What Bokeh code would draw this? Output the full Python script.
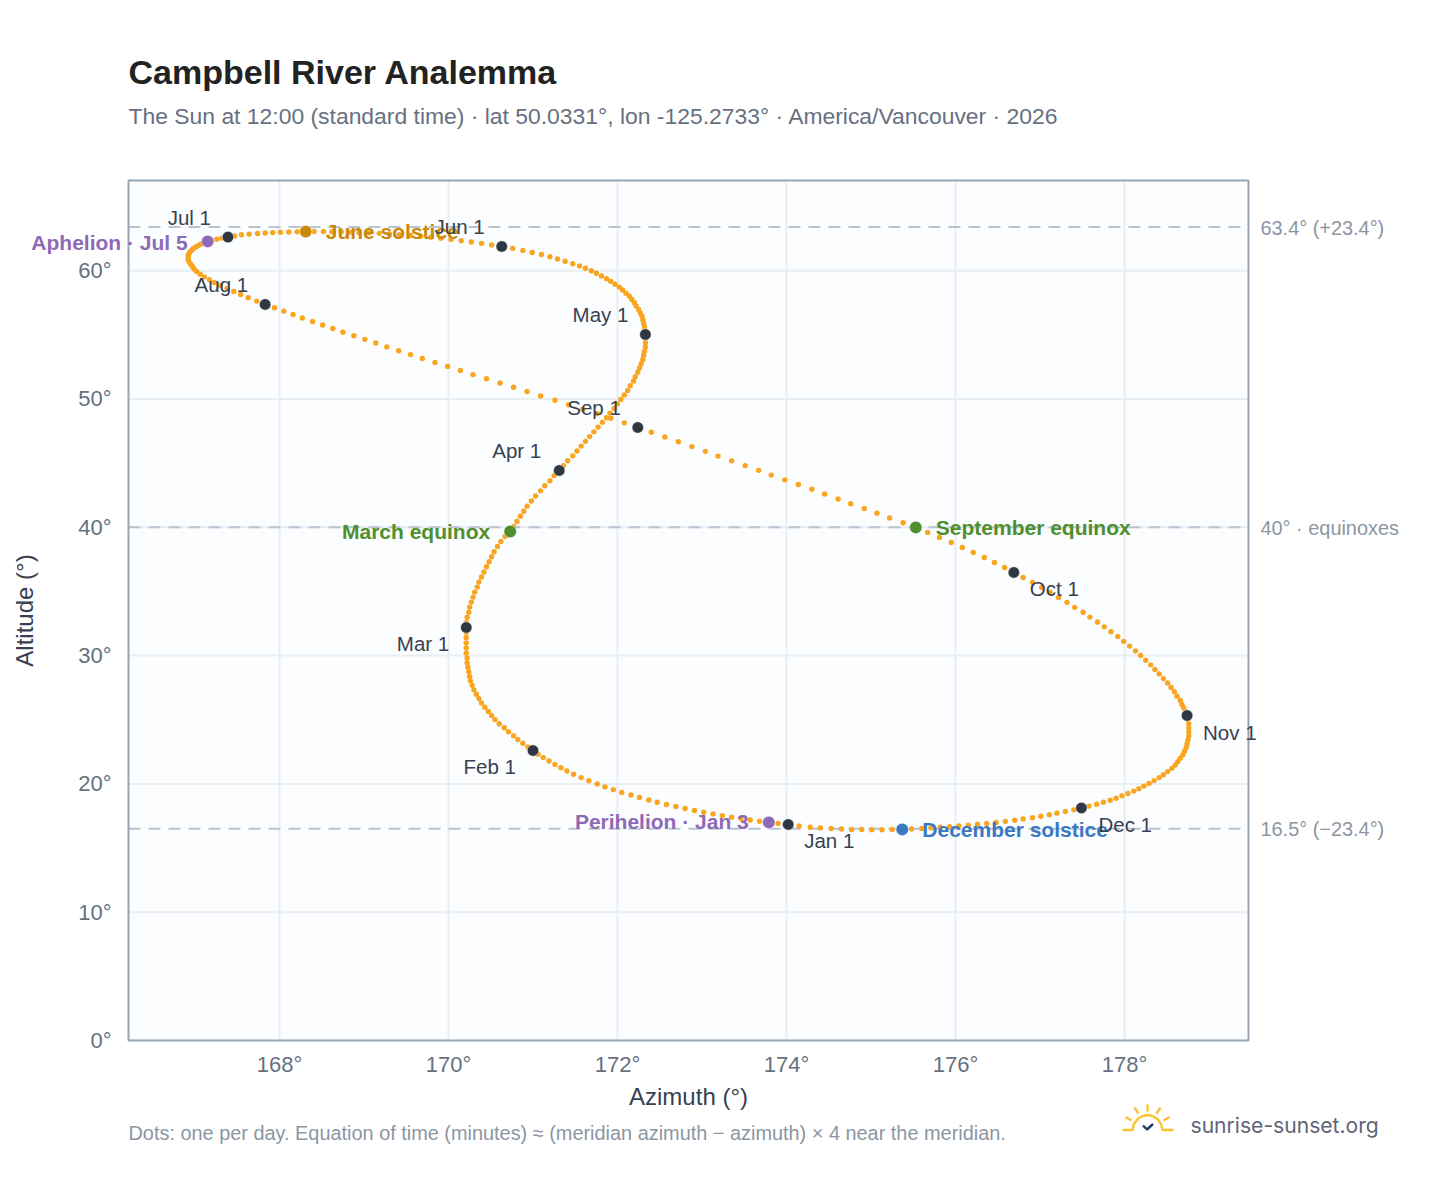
from bokeh.plotting import figure
from bokeh.embed import file_html
from bokeh.resources import INLINE
from bokeh.models import Label, Range1d, FixedTicker, PolyAnnotation, LinearAxis

# Daily sun positions (azimuth, altitude in degrees)
az_jan = [174.02,173.90,173.79,173.68,173.57,173.46,173.35,173.24,173.13,173.02,172.91,172.80,172.69,172.58,172.47,172.37,172.26,172.16,172.05,171.95,171.85,171.76,171.66,171.57,171.48,171.40,171.33,171.26,171.19,171.12,171.06]
alt_jan = [16.84,16.92,17.00,17.09,17.19,17.30,17.41,17.53,17.66,17.79,17.93,18.08,18.24,18.40,18.57,18.75,18.94,19.13,19.33,19.55,19.77,20.00,20.24,20.49,20.75,21.00,21.26,21.52,21.78,22.05,22.32]
az_feb = [171.00,170.94,170.88,170.82,170.77,170.71,170.66,170.60,170.55,170.51,170.47,170.43,170.39,170.36,170.33,170.30,170.28,170.26,170.25,170.24,170.23,170.22,170.22,170.21,170.21,170.21,170.21,170.21]
alt_feb = [22.60,22.88,23.17,23.46,23.76,24.07,24.38,24.69,25.01,25.33,25.65,25.98,26.31,26.65,26.99,27.33,27.68,28.03,28.38,28.74,29.09,29.45,29.82,30.20,30.60,30.99,31.40,31.80]
az_mar = [170.21,170.21,170.22,170.24,170.25,170.27,170.29,170.31,170.34,170.36,170.39,170.42,170.45,170.48,170.51,170.54,170.58,170.62,170.67,170.73,170.77,170.81,170.85,170.89,170.93,170.98,171.03,171.09,171.14,171.20,171.25]
alt_mar = [32.19,32.59,32.99,33.38,33.78,34.17,34.56,34.95,35.34,35.74,36.13,36.52,36.92,37.31,37.71,38.10,38.50,38.89,39.28,39.67,40.07,40.46,40.86,41.25,41.65,42.05,42.44,42.84,43.24,43.63,44.03]
az_apr = [171.31,171.36,171.41,171.47,171.52,171.57,171.62,171.67,171.72,171.77,171.82,171.87,171.91,171.96,172.00,172.04,172.08,172.12,172.15,172.19,172.21,172.24,172.26,172.28,172.30,172.31,172.32,172.33,172.33,172.33]
alt_apr = [44.43,44.81,45.19,45.57,45.95,46.33,46.70,47.07,47.44,47.81,48.18,48.54,48.90,49.26,49.62,49.97,50.32,50.67,51.03,51.40,51.74,52.08,52.42,52.75,53.08,53.41,53.73,54.05,54.37,54.70]
az_may = [172.33,172.33,172.32,172.31,172.30,172.29,172.27,172.25,172.22,172.20,172.17,172.14,172.10,172.06,172.02,171.97,171.92,171.87,171.81,171.75,171.69,171.62,171.55,171.47,171.38,171.29,171.20,171.10,170.99,170.88,170.76]
alt_may = [55.03,55.31,55.60,55.88,56.16,56.44,56.71,56.98,57.24,57.50,57.76,58.01,58.25,58.49,58.72,58.95,59.17,59.38,59.59,59.80,60.00,60.19,60.37,60.55,60.74,60.92,61.09,61.26,61.42,61.58,61.74]
az_jun = [170.63,170.51,170.39,170.27,170.15,170.03,169.91,169.79,169.67,169.55,169.42,169.30,169.18,169.06,168.94,168.83,168.73,168.62,168.52,168.41,168.31,168.21,168.11,168.01,167.92,167.83,167.74,167.64,167.55,167.47]
alt_jun = [61.89,62.01,62.13,62.24,62.34,62.44,62.53,62.61,62.68,62.75,62.81,62.86,62.91,62.95,62.98,63.01,63.03,63.04,63.05,63.05,63.05,63.04,63.02,63.00,62.97,62.94,62.90,62.85,62.80,62.71]
az_jul = [167.39,167.32,167.26,167.20,167.15,167.11,167.07,167.04,167.01,166.98,166.96,166.94,166.93,166.92,166.92,166.92,166.93,166.95,166.97,166.99,167.02,167.06,167.11,167.17,167.23,167.30,167.38,167.46,167.54,167.63,167.73]
alt_jul = [62.62,62.54,62.46,62.37,62.28,62.18,62.08,61.97,61.85,61.73,61.60,61.47,61.33,61.19,61.03,60.86,60.69,60.51,60.32,60.13,59.93,59.73,59.52,59.30,59.08,58.85,58.62,58.38,58.14,57.89,57.63]
az_aug = [167.83,167.94,168.05,168.16,168.27,168.39,168.51,168.63,168.75,168.88,169.01,169.14,169.27,169.41,169.55,169.69,169.84,169.99,170.14,170.29,170.45,170.61,170.77,170.93,171.09,171.26,171.42,171.59,171.76,171.92,172.08]
alt_aug = [57.37,57.11,56.85,56.58,56.31,56.04,55.77,55.49,55.21,54.93,54.65,54.36,54.06,53.76,53.46,53.16,52.85,52.54,52.22,51.90,51.58,51.25,50.92,50.58,50.24,49.90,49.55,49.20,48.86,48.50,48.14]
az_sep = [172.24,172.40,172.56,172.72,172.88,173.04,173.19,173.35,173.51,173.67,173.82,173.98,174.14,174.30,174.45,174.61,174.76,174.92,175.07,175.22,175.38,175.53,175.67,175.81,175.95,176.08,176.21,176.34,176.46,176.58]
alt_sep = [47.78,47.41,47.04,46.67,46.29,45.92,45.55,45.18,44.81,44.44,44.07,43.70,43.33,42.96,42.59,42.21,41.84,41.47,41.10,40.73,40.36,39.99,39.60,39.21,38.82,38.43,38.04,37.65,37.26,36.87]
az_oct = [176.69,176.80,176.91,177.02,177.12,177.22,177.32,177.41,177.51,177.59,177.68,177.76,177.84,177.92,177.99,178.06,178.13,178.19,178.25,178.31,178.36,178.41,178.46,178.51,178.55,178.59,178.62,178.66,178.68,178.70,178.72]
alt_oct = [36.48,36.09,35.70,35.31,34.92,34.53,34.15,33.76,33.38,33.00,32.62,32.24,31.86,31.49,31.11,30.74,30.37,30.01,29.64,29.28,28.92,28.57,28.21,27.86,27.52,27.18,26.84,26.50,26.17,25.93,25.62]
az_nov = [178.74,178.75,178.76,178.76,178.76,178.76,178.75,178.74,178.73,178.71,178.69,178.66,178.63,178.60,178.56,178.51,178.46,178.41,178.35,178.29,178.23,178.17,178.11,178.04,177.97,177.90,177.83,177.75,177.67,177.58]
alt_nov = [25.33,25.00,24.68,24.36,24.04,23.73,23.43,23.13,22.84,22.55,22.27,22.00,21.73,21.47,21.21,20.96,20.72,20.49,20.26,20.04,19.83,19.63,19.44,19.25,19.07,18.89,18.73,18.57,18.42,18.27]
az_dec = [177.49,177.40,177.30,177.20,177.11,177.01,176.91,176.80,176.70,176.59,176.48,176.37,176.26,176.15,176.04,175.93,175.82,175.71,175.60,175.48,175.37,175.25,175.13,175.01,174.89,174.77,174.65,174.53,174.40,174.28,174.15]
alt_dec = [18.12,17.98,17.85,17.72,17.60,17.48,17.37,17.27,17.17,17.08,17.00,16.92,16.85,16.78,16.72,16.67,16.62,16.58,16.52,16.48,16.45,16.44,16.43,16.43,16.44,16.45,16.48,16.52,16.57,16.63,16.72]

az_months = [az_jan, az_feb, az_mar, az_apr, az_may, az_jun, az_jul, az_aug, az_sep, az_oct, az_nov, az_dec]
alt_months = [alt_jan, alt_feb, alt_mar, alt_apr, alt_may, alt_jun, alt_jul, alt_aug, alt_sep, alt_oct, alt_nov, alt_dec]
month_labels = ["Jan 1", "Feb 1", "Mar 1", "Apr 1", "May 1", "Jun 1", "Jul 1", "Aug 1", "Sep 1", "Oct 1", "Nov 1", "Dec 1"]
ref_alts = [63.4, 40, 16.5]
ref_labels = ["63.4° (+23.4°)", "40° · equinoxes", "16.5° (−23.4°)"]
x_ticks = [168, 170, 172, 174, 176, 178]
y_ticks = [0, 10, 20, 30, 40, 50, 60]

# Plot area limits
XMIN, XMAX = 166.213, 179.467
YMIN, YMAX = 0.0, 67.03

# Canvas layout: the plotting frame fills the canvas so that text may sit around the chart box
W, H = 1440, 1180
BL, BT, BW, BH = 128, 180, 1120, 860
kx = (XMAX - XMIN) / BW
ky = (YMAX - YMIN) / BH

p = figure(width=W, height=H, output_backend="svg", toolbar_location=None,
           x_range=Range1d(XMIN - BL * kx, XMAX + (W - BL - BW) * kx),
           y_range=Range1d(YMIN - (H - BT - BH) * ky, YMAX + BT * ky),
           x_axis_location=None, y_axis_location=None,
           min_border=0, frame_width=W, frame_height=H,
           background_fill_color="white", border_fill_color="white")
p.outline_line_color = None
p.grid.visible = False

FONT = "Liberation Sans"
GRID = "#e9eef3"
EDGE = "#98a5b3"

p.quad(left=[XMIN], right=[XMAX], bottom=[YMIN], top=[YMAX], fill_color="#fbfdff", line_color=None)
p.segment(x_ticks, [YMIN] * len(x_ticks), x_ticks, [YMAX] * len(x_ticks), line_color=GRID, line_width=2)
p.segment([XMIN] * len(y_ticks), y_ticks, [XMAX] * len(y_ticks), y_ticks, line_color=GRID, line_width=2)
ref_lines = p.segment([XMIN] * 3, ref_alts, [XMAX] * 3, ref_alts, line_color="#b9c4cf", line_width=2)
ref_lines.glyph.line_dash = [12, 8]
p.quad(left=[XMIN], right=[XMAX], bottom=[YMIN], top=[YMAX], fill_color=None, line_color=EDGE, line_width=2)

xax = LinearAxis(fixed_location=YMIN, ticker=FixedTicker(ticks=x_ticks),
                 major_label_overrides={t: f"{t}°" for t in x_ticks})
yax = LinearAxis(fixed_location=XMIN, ticker=FixedTicker(ticks=y_ticks),
                 major_label_overrides={t: f"{t}°" for t in y_ticks})
p.add_layout(xax, "below")
p.add_layout(yax, "left")
for ax in (xax, yax):
    ax.axis_line_color = None
    ax.major_tick_line_color = None
    ax.minor_tick_line_color = None
    ax.major_label_text_font = FONT
    ax.major_label_text_font_size = "22px"
    ax.major_label_text_color = "#667080"
xax.major_label_standoff = 5
yax.major_label_standoff = 11

az_all = [v for m in az_months for v in m]
alt_all = [v for m in alt_months for v in m]
p.scatter(az_all, alt_all, size=5.4, fill_color="#f9a51f", line_color=None)

first_az = [m[0] for m in az_months]
first_alt = [m[0] for m in alt_months]
p.scatter(first_az, first_alt, size=11.5, fill_color="#2f3743", line_color="white", line_width=0.5)

specials = [
    ("Perihelion · Jan 3", az_jan[2], alt_jan[2], "#8e69b5", "right", -20, 1),
    ("March equinox", az_mar[19], alt_mar[19], "#4f8f2e", "right", -20, 0),
    ("June solstice", az_jun[20], alt_jun[20], "#c98a0c", "left", 20, 0),
    ("Aphelion · Jul 5", az_jul[4], alt_jul[4], "#8e69b5", "right", -20, -1),
    ("September equinox", az_sep[21], alt_sep[21], "#4f8f2e", "left", 20, 0),
    ("December solstice", az_dec[20], alt_dec[20], "#3a78c2", "left", 20, 0),
]
for name, x, y, c, al, dx, dy in specials:
    p.scatter([x], [y], size=12.5, fill_color=c, line_color="white", line_width=0.5)
    p.add_layout(Label(x=x, y=y, text=name, text_color=c, text_font=FONT, text_font_size="21px",
                       text_font_style="bold", text_align=al, text_baseline="middle", x_offset=dx, y_offset=dy))

offsets = [(16, -16, "left"), (-17, -16, "right"), (-17, -16.5, "right"), (-18, 19.5, "right"),
           (-17, 19.5, "right"), (-17, 19.5, "right"), (-17, 19.5, "right"), (-17, 19.5, "right"),
           (-17, 20, "right"), (16, -16.5, "left"), (16, -16.5, "left"), (17, -16.5, "left")]
for t, x, y, (dx, dy, al) in zip(month_labels, first_az, first_alt, offsets):
    p.add_layout(Label(x=x, y=y, text=t, text_color="#374151", text_font=FONT, text_font_size="20.5px",
                       text_align=al, text_baseline="middle", x_offset=dx, y_offset=dy))

for a, t in zip(ref_alts, ref_labels):
    p.add_layout(Label(x=XMAX, y=a, text=t, text_color="#8c96a3", text_font=FONT, text_font_size="19.9px",
                       text_align="left", text_baseline="middle", x_offset=12, y_offset=-0.5))

def sy(py):
    return H - py

def screen_label(text, px, py, size, color, style="normal", font=FONT, align="left", angle=0):
    p.add_layout(Label(x=px, y=sy(py), x_units="screen", y_units="screen", text=text, text_color=color,
                       text_font=font, text_font_size=size, text_font_style=style, angle=angle, angle_units="deg",
                       text_align=align, text_baseline="middle"))

screen_label("Campbell River Analemma", 128, 71.5, "34px", "#222222", "bold")
screen_label("The Sun at 12:00 (standard time) · lat 50.0331°, lon -125.2733° · America/Vancouver · 2026", 128, 115, "22.9px", "#667080")
screen_label("Dots: one per day. Equation of time (minutes) ≈ (meridian azimuth − azimuth) × 4 near the meridian.", 128, 1132.5, "19.9px", "#8c96a3")
screen_label("sunrise-sunset.org", 1190, 1124.5, "21.1px", "#5f6478", font="Inter")
screen_label("Azimuth (°)", 688, 1096, "24px", "#374151", align="center")
screen_label("Altitude (°)", 24, 610, "24px", "#374151", align="center", angle=90)

def logo_line(pts, color):
    xs = [a for a, _ in pts] + [a for a, _ in reversed(pts)]
    ys = [sy(b) for _, b in pts] + [sy(b) for _, b in reversed(pts)]
    p.add_layout(PolyAnnotation(xs=xs, ys=ys, xs_units="screen", ys_units="screen", fill_alpha=0,
                                line_color=color, line_alpha=1, line_width=2.4))

SUN = "#fbc42d"
logo_line([(1122, 1129.5), (1132, 1129.5), (1133.5, 1123.5), (1137, 1118.5), (1142, 1115.5), (1147, 1114.5),
           (1152, 1115.5), (1157, 1118.5), (1160.5, 1123.5), (1162, 1129.5), (1173, 1129.5)], SUN)
logo_line([(1147, 1111), (1147, 1104)], SUN)
logo_line([(1138, 1113), (1134, 1107)], SUN)
logo_line([(1156, 1113), (1160, 1107)], SUN)
logo_line([(1131, 1120), (1125, 1116.5)], SUN)
logo_line([(1163, 1120), (1169, 1116.5)], SUN)
logo_line([(1142.5, 1125), (1146.5, 1129), (1152.5, 1123.5)], "#1f3d5c")

open("out.html", "w").write(file_html(p, INLINE))
